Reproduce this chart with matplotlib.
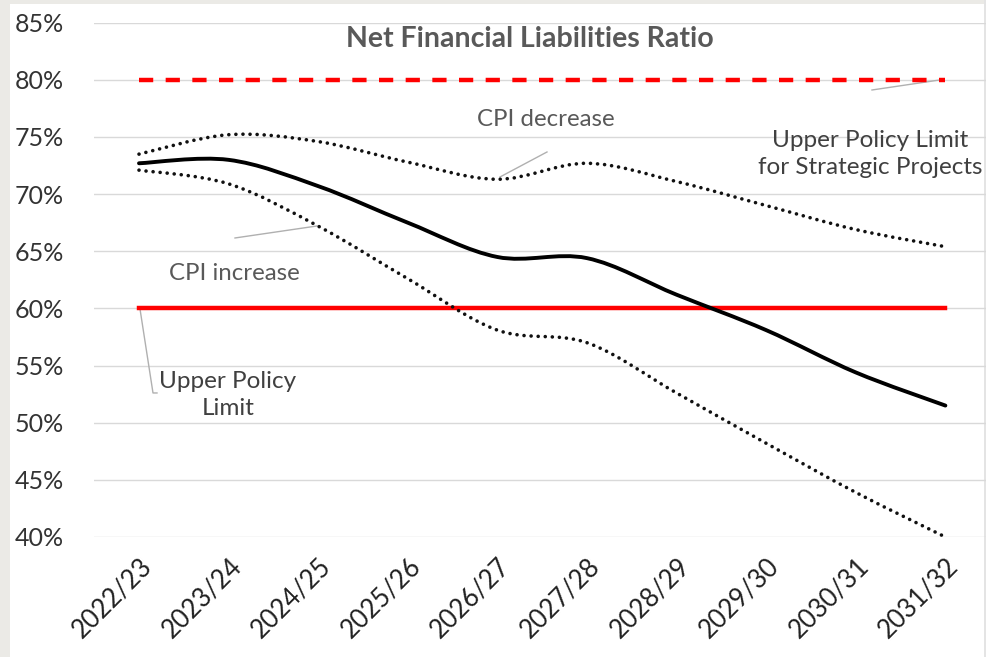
import numpy as np
import matplotlib.pyplot as plt
from matplotlib.path import Path
from matplotlib.patches import PathPatch, Rectangle

plt.rcParams['font.family'] = ['Lato', 'DejaVu Sans']

# Дані (значення у відсотках)
years = ['2022/23', '2023/24', '2024/25', '2025/26', '2026/27',
         '2027/28', '2028/29', '2029/30', '2030/31', '2031/32']
base = [72.7, 73.0, 70.7, 67.5, 64.5, 64.4, 61.2, 58.1, 54.4, 51.5]
cpi_decrease = [73.5, 75.2, 74.6, 72.8, 71.3, 72.7, 71.1, 69.0, 66.9, 65.4]
cpi_increase = [72.1, 70.9, 67.2, 62.6, 58.1, 57.0, 52.6, 48.2, 43.9, 40.0]
upper_limit = 60
strategic_limit = 80
yticks = [40, 45, 50, 55, 60, 65, 70, 75, 80, 85]


def smooth_path(xs, ys):
    """Згладжена лінія як у Excel (Catmull-Rom через криві Безьє)"""
    pts = np.column_stack([xs, ys]).astype(float)
    verts = [pts[0]]
    codes = [Path.MOVETO]
    n = len(pts)
    for i in range(n - 1):
        p0 = pts[max(i - 1, 0)]
        p1 = pts[i]
        p2 = pts[i + 1]
        p3 = pts[min(i + 2, n - 1)]
        c1 = p1 + (p2 - p0) / 6
        c2 = p2 - (p3 - p1) / 6
        verts += [c1, c2, p2]
        codes += [Path.CURVE4] * 3
    return Path(verts, codes)


def px(x, y):
    """Піксельні координати референсу -> координати даних"""
    return (x - 139) / 89.6, 85 - (y - 22.7) / 11.43


fig = plt.figure(figsize=(9.86, 6.57), dpi=100, facecolor='white')
# сіра рамка зліва і зверху
fig.patches.append(Rectangle((0, 0), 10 / 986, 1, transform=fig.transFigure,
                             facecolor='#ebeae6', edgecolor='none', zorder=-5))
fig.patches.append(Rectangle((0, 653 / 657), 1, 4 / 657, transform=fig.transFigure,
                             facecolor='#ebeae6', edgecolor='none', zorder=-5))
fig.patches.append(Rectangle((984 / 986, 0), 2 / 986, 1, transform=fig.transFigure,
                             facecolor='#e4e4e4', edgecolor='none', zorder=-5))

ax = fig.add_axes([94.2 / 986, 1 - 537 / 657, (985.7 - 94.2) / 986, (537 - 22.7) / 657])
ax.set_facecolor('none')
x = np.arange(len(years))

ax.set_xlim(-0.5, 9.45)
ax.set_ylim(40, 85)
ax.set_yticks(yticks)
ax.set_yticklabels([f'{v}%' for v in yticks], fontsize=18, color='#333333')
ax.set_xticks(x)
ax.set_xticklabels(years, rotation=45, ha='right', rotation_mode='anchor',
                   fontsize=18.5, color='#222222')
ax.tick_params(axis='both', length=0)
ax.tick_params(axis='y', pad=22)
ax.tick_params(axis='x', pad=12)
for s in ax.spines.values():
    s.set_visible(False)
ax.grid(axis='y', color='#d9d9d9', linewidth=1)
ax.set_axisbelow(True)

# Лінії лімітів
ax.plot([x[0], x[-1]], [strategic_limit] * 2, color='#ff0000', linewidth=3.2,
        dashes=(3.2, 2.8), zorder=3)
ax.plot([x[0], x[-1]], [upper_limit] * 2, color='#ff0000', linewidth=3.2, zorder=3)

# Сценарії
ax.add_patch(PathPatch(smooth_path(x, base), fill=False, edgecolor='black',
                       linewidth=2.8, capstyle='round', zorder=4))
for series in (cpi_decrease, cpi_increase):
    ax.add_patch(PathPatch(smooth_path(x, series), fill=False, edgecolor='#111111',
                           linewidth=2.6, linestyle=(0, (0.01, 1.95)),
                           capstyle='round', zorder=4))

# Заголовок
ax.text(*px(530, 39), 'Net Financial Liabilities Ratio', fontsize=20.5,
        fontweight='bold', color='#595959', ha='center', va='center')

# Підписи з виносками
lead = dict(color='#b0b0b0', linewidth=1, zorder=2)
ax.text(*px(546, 120), 'CPI decrease', fontsize=17.3, color='#595959',
        ha='center', va='center')
ax.plot(*zip(px(547, 152), px(500, 177)), **lead)

ax.text(*px(234, 274), 'CPI increase', fontsize=17.3, color='#595959',
        ha='center', va='center')
ax.plot(*zip(px(235, 238), px(317, 226)), **lead)

ax.text(*px(228, 395), 'Upper Policy\nLimit', fontsize=17.5, color='#404040',
        ha='center', va='center', linespacing=1.4)
ax.plot(*zip(px(140, 309), px(153, 393), px(157, 393)), **lead)

ax.text(*px(870, 154), 'Upper Policy Limit\nfor Strategic Projects', fontsize=17.5,
        color='#404040', ha='center', va='center', linespacing=1.4)
ax.plot(*zip(px(872, 90), px(943, 79.5)), **lead)

fig.savefig('out.png', dpi=100, facecolor=fig.get_facecolor())
